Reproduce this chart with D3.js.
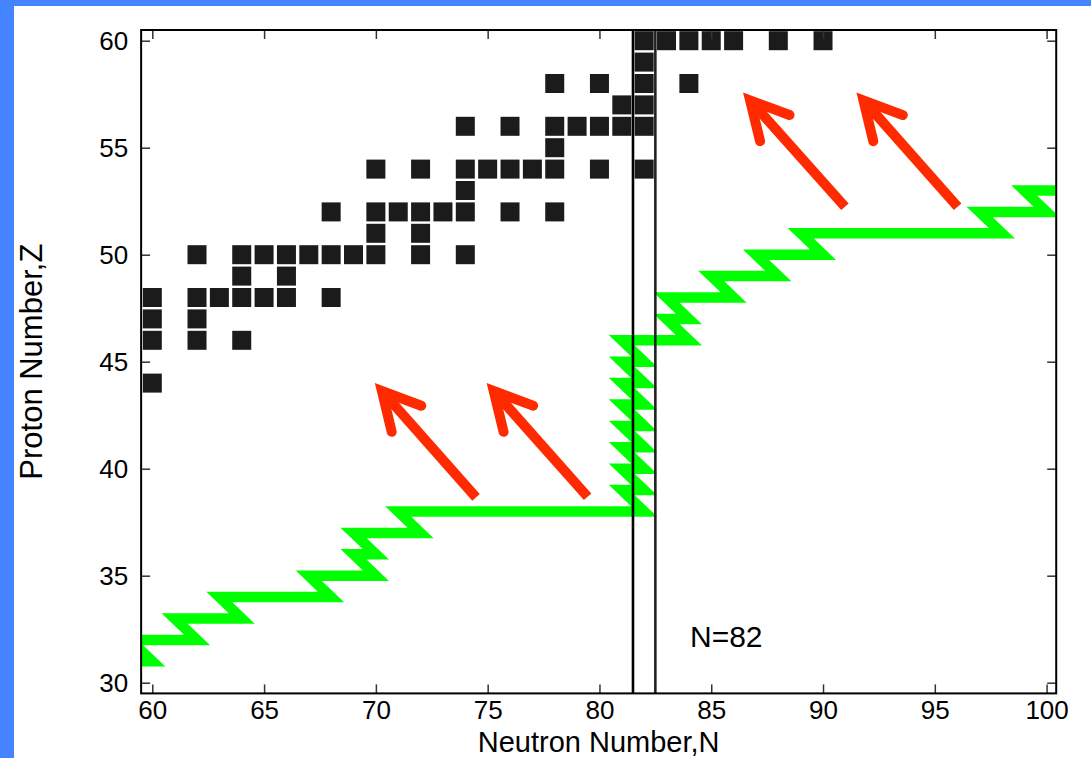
<!DOCTYPE html>
<html>
<head>
<meta charset="utf-8">
<script src="https://cdn.jsdelivr.net/npm/d3@7"></script>
<style>
    body { margin: 0; background: #4584ff; }
    svg { display: block; }
</style>
</head>
<body>
<script>
// tick labels
const neutronTicks = [60, 65, 70, 75, 80, 85, 90, 95, 100];
const protonTicks = [30, 35, 40, 45, 50, 55, 60];

// measured nuclei, one square each (N, Z)
const nucleusN = [60,
    60, 62, 64,
    60, 62,
    60, 62, 63, 64, 65, 66, 68,
    64, 66,
    62, 64, 65, 66, 67, 68, 69, 70, 72, 74,
    70, 72,
    68, 70, 71, 72, 73, 74, 76, 78,
    74,
    70, 72, 74, 75, 76, 77, 78, 80, 82,
    78,
    74, 76, 78, 79, 80, 81, 82,
    81, 82,
    78, 80, 82, 84,
    82,
    82, 83, 84, 85, 86, 88, 90];
const nucleusZ = [44,
    46, 46, 46,
    47, 47,
    48, 48, 48, 48, 48, 48, 48,
    49, 49,
    50, 50, 50, 50, 50, 50, 50, 50, 50, 50,
    51, 51,
    52, 52, 52, 52, 52, 52, 52, 52,
    53,
    54, 54, 54, 54, 54, 54, 54, 54, 54,
    55,
    56, 56, 56, 56, 56, 56, 56,
    57, 57,
    58, 58, 58, 58,
    59,
    60, 60, 60, 60, 60, 60, 60];

// r-process path: neutron captures along Z, beta decays up-left
const pathN = [57, 60, 59, 62, 61, 64, 63, 68, 67, 70, 69, 70, 69, 72, 71, 82,
    81, 82, 81, 82, 81, 82, 81, 82, 81, 82, 81, 82, 81, 82,
    81, 84, 83, 84, 83, 86, 85, 88, 87, 90, 89, 98, 97, 100, 99, 103];
const pathZ = [31, 31, 32, 32, 33, 33, 34, 34, 35, 35, 36, 36, 37, 37, 38, 38,
    39, 39, 40, 40, 41, 41, 42, 42, 43, 43, 44, 44, 45, 45,
    46, 46, 47, 47, 48, 48, 49, 49, 50, 50, 51, 51, 52, 52, 53, 53];

// decay arrows back to stability
const arrowTailN = [74.48, 79.47, 90.98, 96.02];
const arrowTailZ = [38.66, 38.69, 52.24, 52.24];
const arrowHeadN = [70.27, 75.27, 86.74, 91.81];
const arrowHeadZ = [43.63, 43.63, 57.21, 57.21];

// closed shell boundaries
const magicLines = [81.5, 82.5];
const shellLabel = "N=82";

(function () {
    const W = 1091, H = 758;
    const svg = d3.select('body').append('svg')
        .attr('width', W)
        .attr('height', H);

    svg.append('rect')
        .attr('x', 0).attr('y', 0)
        .attr('width', W).attr('height', H)
        .attr('fill', '#4584ff');
    svg.append('rect')
        .attr('x', 14).attr('y', 6)
        .attr('width', W - 14).attr('height', H - 6)
        .attr('fill', 'white');

    const x = d3.scaleLinear().domain([60, 100]).range([152.3, 1046.6]);
    const y = d3.scaleLinear().domain([30, 60]).range([682.7, 40.7]);

    const fLeft = x(59.5), fRight = x(100.43);
    const fTop = y(60.5), fBottom = y(29.5);

    svg.append('clipPath').attr('id', 'frame')
        .append('rect')
        .attr('x', fLeft).attr('y', fTop)
        .attr('width', fRight - fLeft).attr('height', fBottom - fTop);

    const font = "'Liberation Sans', Arial, Helvetica, sans-serif";

    // green r-process path
    const pathPts = pathN.map((n, i) => [x(n), y(pathZ[i])]);
    svg.append('path')
        .attr('clip-path', 'url(#frame)')
        .attr('d', d3.line()(pathPts))
        .attr('fill', 'none')
        .attr('stroke', '#00ff00')
        .attr('stroke-width', 10.5)
        .attr('stroke-linejoin', 'miter')
        .attr('stroke-miterlimit', 4);

    // red arrows
    const red = '#ff2a00';
    arrowTailN.forEach((n, i) => {
        const tx = x(n), ty = y(arrowTailZ[i]);
        const hx = x(arrowHeadN[i]), hy = y(arrowHeadZ[i]);
        const ang = Math.atan2(ty - hy, tx - hx);
        const len = 42, spread = 28 * Math.PI / 180;
        const b1 = [hx + len * Math.cos(ang - spread), hy + len * Math.sin(ang - spread)];
        const b2 = [hx + len * Math.cos(ang + spread), hy + len * Math.sin(ang + spread)];

        svg.append('line')
            .attr('x1', tx).attr('y1', ty)
            .attr('x2', hx).attr('y2', hy)
            .attr('stroke', red)
            .attr('stroke-width', 10);

        svg.append('path')
            .attr('d', d3.line()([b1, [hx, hy], b2]))
            .attr('fill', 'none')
            .attr('stroke', red)
            .attr('stroke-width', 10)
            .attr('stroke-linecap', 'round')
            .attr('stroke-linejoin', 'miter');
    });

    // N=82 lines
    svg.selectAll('.magic')
        .data(magicLines)
        .enter().append('line')
        .attr('class', 'magic')
        .attr('x1', d => x(d)).attr('x2', d => x(d))
        .attr('y1', fTop).attr('y2', fBottom)
        .attr('stroke', (d, i) => i == 0 ? '#000' : '#222')
        .attr('stroke-width', 2.6);

    // nuclei squares
    const sq = 19;
    svg.selectAll('.nucleus')
        .data(nucleusN)
        .enter().append('rect')
        .attr('class', 'nucleus')
        .attr('x', d => x(d) - sq / 2)
        .attr('y', (d, i) => y(nucleusZ[i]) - sq / 2)
        .attr('width', sq)
        .attr('height', sq)
        .attr('fill', '#1b1b1b');

    // axes, ticks pointing inward
    function styleAxis(g) {
        g.select('.domain').remove();
        g.attr('font-family', font).attr('font-size', 26);
        g.selectAll('.tick line').attr('stroke', '#333').attr('stroke-width', 1.5);
        g.selectAll('.tick text').attr('fill', '#000');
    }

    svg.append('g')
        .attr('transform', `translate(0,${fBottom})`)
        .call(d3.axisBottom(x).tickValues(neutronTicks).tickSizeInner(-9).tickSizeOuter(0).tickPadding(7))
        .call(styleAxis);

    svg.append('g')
        .attr('transform', `translate(${fLeft},0)`)
        .call(d3.axisLeft(y).tickValues(protonTicks).tickSizeInner(-9).tickSizeOuter(0).tickPadding(13))
        .call(styleAxis);

    svg.append('g')
        .attr('transform', `translate(0,${fTop})`)
        .call(d3.axisTop(x).tickValues(neutronTicks).tickSizeInner(-9).tickSizeOuter(0).tickFormat(''))
        .call(styleAxis);

    svg.append('g')
        .attr('transform', `translate(${fRight},0)`)
        .call(d3.axisRight(y).tickValues(protonTicks).tickSizeInner(-9).tickSizeOuter(0).tickFormat(''))
        .call(styleAxis);

    // frame
    svg.append('rect')
        .attr('x', fLeft).attr('y', fTop)
        .attr('width', fRight - fLeft).attr('height', fBottom - fTop)
        .attr('fill', 'none')
        .attr('stroke', '#000')
        .attr('stroke-width', 2);

    // labels
    svg.append('text')
        .attr('x', x(84.05))
        .attr('y', y(31.65))
        .attr('font-family', font)
        .attr('font-size', 30)
        .text(shellLabel);

    svg.append('text')
        .attr('x', (fLeft + fRight) / 2)
        .attr('y', 751.5)
        .attr('text-anchor', 'middle')
        .attr('font-family', font)
        .attr('font-size', 29)
        .text('Neutron Number,N');

    svg.append('text')
        .attr('transform', `translate(42,${(fTop + fBottom) / 2})rotate(-90)`)
        .attr('text-anchor', 'middle')
        .attr('font-family', font)
        .attr('font-size', 31)
        .text('Proton Number,Z');
})();
</script>
</body>
</html>
